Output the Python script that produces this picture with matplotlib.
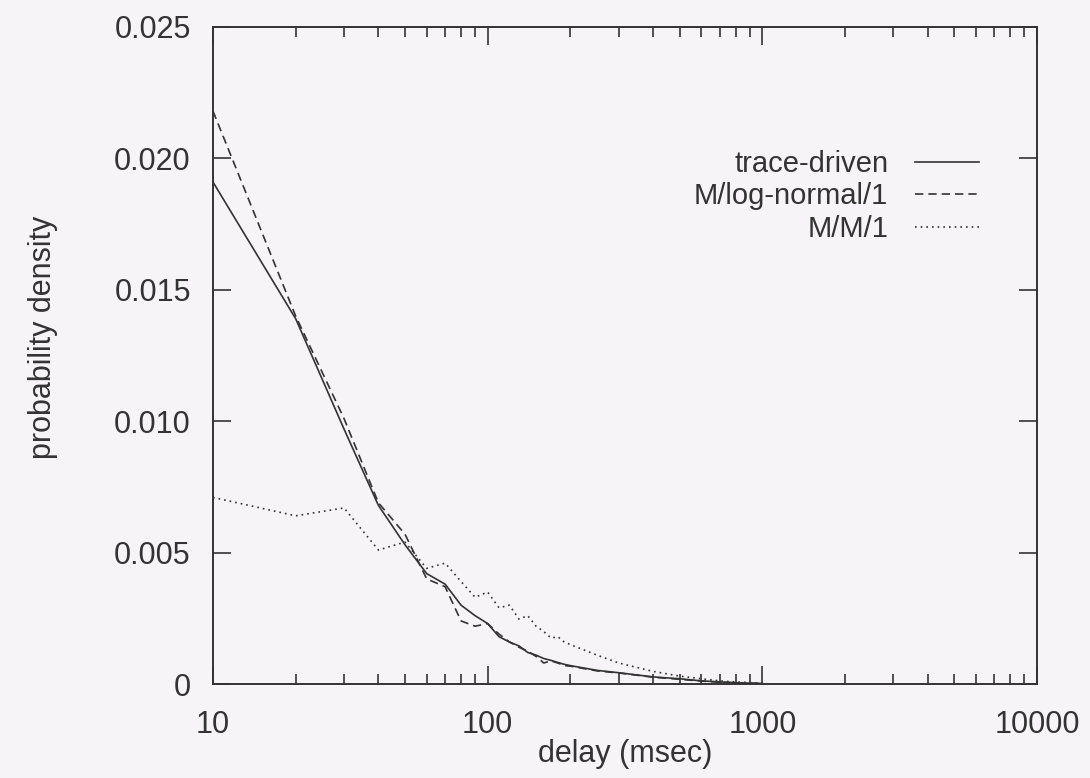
import matplotlib
matplotlib.use("Agg")
import matplotlib.pyplot as plt
from matplotlib.ticker import FixedLocator, LogLocator, FuncFormatter, NullFormatter

# delay samples (msec) shared by the three density curves
delay = [10, 20, 30, 40, 50, 60, 70, 80, 90, 100,
         110, 120, 130, 140, 150, 160, 170, 180, 190, 200,
         250, 300, 400, 500, 600, 700, 800, 1000]

trace_driven = [0.0191, 0.0139, 0.0097, 0.0068, 0.0053, 0.0042, 0.0038, 0.0030, 0.0026, 0.0023,
                0.0018, 0.0016, 0.00145, 0.0012, 0.0011, 0.00097, 0.0009, 0.00082, 0.00075, 0.0007,
                0.00052, 0.00043, 0.00027, 0.0002, 0.00012, 0.00008, 0.00005, 0.00002]

lognormal = [0.0218, 0.0140, 0.0101, 0.0069, 0.0057, 0.0040, 0.0037, 0.0024, 0.0022, 0.0023,
             0.0019, 0.0016, 0.0014, 0.00125, 0.00105, 0.0008, 0.00088, 0.0008, 0.0007, 0.00068,
             0.0005, 0.00042, 0.00026, 0.00018, 0.00011, 0.00007, 0.00004, 0.00002]

mm1 = [0.0071, 0.0064, 0.0067, 0.0051, 0.0054, 0.0044, 0.0046, 0.0039, 0.0033, 0.0035,
       0.0029, 0.0030, 0.00247, 0.0026, 0.0022, 0.0020, 0.00175, 0.0018, 0.0016, 0.0015,
       0.0011, 0.0008, 0.00048, 0.0003, 0.0002, 0.00012, 0.00008, 0.00003]

y_ticks = [0, 0.005, 0.010, 0.015, 0.020, 0.025]
x_ticks = [10, 100, 1000, 10000]

ink = "#333333"
paper = "#f6f4f6"

plt.rcParams["font.family"] = ["Liberation Sans", "DejaVu Sans"]

fig = plt.figure(figsize=(10.9, 7.78), dpi=100, facecolor=paper)
ax = fig.add_axes([0.1954, 0.1208, 0.7560, 0.8445])
ax.set_facecolor(paper)

ax.plot(delay, trace_driven, color=ink, lw=1.2, ls="-", label="trace-driven")
ax.plot(delay, lognormal, color=ink, lw=1.2, ls=(0, (5, 3)), label="M/log-normal/1")
ax.plot(delay, mm1, color=ink, lw=1.2, ls=(0, (1, 2.4)), label="M/M/1")

ax.set_xscale("log")
ax.set_xlim(10, 10000)
ax.set_ylim(0, 0.025)

ax.xaxis.set_major_locator(FixedLocator(x_ticks))
ax.xaxis.set_minor_locator(LogLocator(base=10, subs=range(2, 10)))
ax.xaxis.set_minor_formatter(NullFormatter())
ax.xaxis.set_major_formatter(FuncFormatter(lambda v, p: "%d" % v))
ax.yaxis.set_major_locator(FixedLocator(y_ticks))
ax.yaxis.set_major_formatter(FuncFormatter(lambda v, p: "0" if v == 0 else "%.3f" % v))

ax.tick_params(which="both", direction="in", top=True, right=True, color=ink,
               labelcolor=ink, labelsize=22, width=1.2)
ax.tick_params(which="major", length=13)
ax.tick_params(which="minor", length=7)
ax.tick_params(axis="x", which="major", pad=19)
ax.tick_params(axis="y", which="major", pad=16)

for side in ax.spines.values():
    side.set_color(ink)
    side.set_linewidth(1.4)

ax.set_xlabel("delay (msec)", fontsize=22, color=ink)
ax.set_ylabel("probability density", fontsize=22, color=ink)
ax.xaxis.set_label_coords(0.5, -0.083)
ax.yaxis.set_label_coords(-0.188, 0.527)

ax.legend(loc="upper right", bbox_to_anchor=(0.947, 0.835), frameon=False,
          markerfirst=False, fontsize=21, labelcolor=ink, handlelength=2.2,
          handletextpad=0.9, labelspacing=0.15, borderpad=0)

fig.savefig("out.png", dpi=100, facecolor=paper)
